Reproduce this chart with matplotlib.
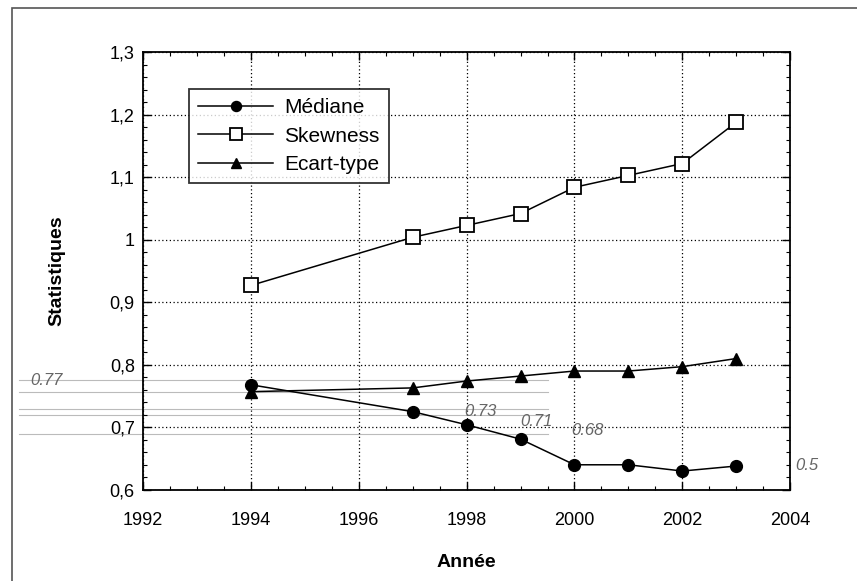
import numpy as np
import matplotlib.pyplot as plt
from matplotlib.ticker import MultipleLocator
from matplotlib.patches import Rectangle

annees_sk = [1994, 1997, 1998, 1999, 2000, 2001, 2002, 2003]
skewness = [0.927, 1.004, 1.023, 1.042, 1.084, 1.103, 1.122, 1.188]

annees = [1994, 1997, 1998, 1999, 2000, 2001, 2002, 2003]
mediane = [0.768, 0.725, 0.704, 0.681, 0.640, 0.640, 0.630, 0.638]
ecart_type = [0.757, 0.763, 0.774, 0.782, 0.790, 0.790, 0.797, 0.810]

# notes manuscrites sur le scan
notes = ["0.77", "0.73", "0.71", "0.68", "0.5"]
notes_x = [1989.9, 1997.95, 1999.0, 1999.95, 2004.1]
notes_y = [0.775, 0.725, 0.709, 0.695, 0.639]


def virgule(v, pos):
    s = "%g" % round(v, 2)
    return s.replace(".", ",")


def main():
    plt.rcParams["font.family"] = ["Liberation Sans", "DejaVu Sans"]
    fig = plt.figure(figsize=(8.57, 5.81), dpi=100)
    ax = fig.add_axes([0.167, 0.157, 0.755, 0.753])

    fig.patches.append(Rectangle((0.014, -0.05), 1.1, 1.036, transform=fig.transFigure,
                                 fill=False, edgecolor="#555555", linewidth=1.2))

    ax.plot(annees, mediane, color="black", lw=1.1, marker="o", ms=8.5, label="Médiane")
    ax.plot(annees_sk, skewness, color="black", lw=1.1, marker="s", ms=9.5,
            markerfacecolor="white", markeredgewidth=1.3, label="Skewness")
    ax.plot(annees, ecart_type, color="black", lw=1.1, marker="^", ms=8.5, label="Ecart-type")

    ax.set_xlim(1992, 2004)
    ax.set_ylim(0.6, 1.3)
    ax.xaxis.set_major_locator(MultipleLocator(2))
    ax.xaxis.set_minor_locator(MultipleLocator(0.5))
    ax.yaxis.set_major_locator(MultipleLocator(0.1))
    ax.yaxis.set_minor_locator(MultipleLocator(0.02))
    ax.yaxis.set_major_formatter(plt.FuncFormatter(virgule))
    ax.tick_params(which="both", direction="in", top=True, right=True, labelsize=13)
    ax.tick_params(axis="x", which="major", pad=16)
    ax.tick_params(axis="y", which="major", pad=6)
    ax.tick_params(which="major", length=6, width=1.0)
    ax.tick_params(which="minor", length=3, width=0.8)
    ax.grid(True, which="major", color="black", linestyle=(0, (1, 2)), linewidth=0.9)
    for s in ax.spines.values():
        s.set_linewidth(1.3)

    ax.set_xlabel("Année", fontsize=14, fontweight="bold", labelpad=18)
    ax.set_ylabel("Statistiques", fontsize=14, fontweight="bold", labelpad=32)

    leg = ax.legend(loc="upper left", bbox_to_anchor=(0.055, 0.94), fontsize=15,
                    handlelength=3.6, frameon=True, fancybox=False, edgecolor="black",
                    labelspacing=0.45, borderpad=0.45, handletextpad=0.5, markerscale=0.85)
    leg.get_frame().set_linewidth(1.3)

    for y in [0.775, 0.757, 0.73, 0.72, 0.69]:
        ax.plot([1989.7, 1999.5], [y, y], color="#bbbbbb", lw=0.8, clip_on=False, zorder=0)
    for t, x, y in zip(notes, notes_x, notes_y):
        ax.text(x, y, t, color="#666666", fontsize=12, clip_on=False,
                fontstyle="italic", ha="left", va="center")

    fig.savefig("out.png", dpi=100)


if __name__ == "__main__":
    main()
